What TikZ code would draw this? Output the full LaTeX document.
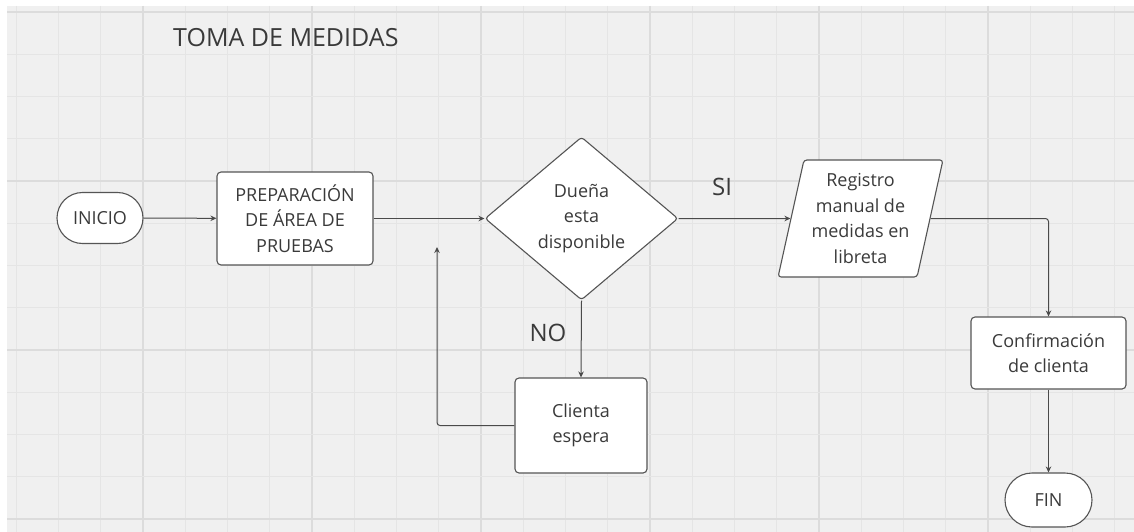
\documentclass[tikz,border=0pt]{standalone}
\usepackage{fontspec}
\setmainfont{Open Sans}
\usetikzlibrary{arrows.meta,shapes.geometric,shapes.misc}
\definecolor{canvas}{HTML}{F0F0F0}
\definecolor{gridminor}{HTML}{E5E5E5}
\definecolor{gridmajor}{HTML}{DCDCDC}
\definecolor{edge}{HTML}{555555}
\definecolor{ink}{HTML}{3A3A3A}
\definecolor{wire}{HTML}{4A4A4A}

\begin{document}
\begin{tikzpicture}[x=1pt,y=-1pt,
  shapebase/.style={draw=edge, line width=1.1pt, fill=white, align=center,
    text=ink, font=\fontsize{18}{25.5}\selectfont, inner sep=0pt},
  process/.style={shapebase, rectangle, rounded corners=4pt},
  terminal/.style={shapebase, rounded rectangle},
  decision/.style={shapebase, diamond, rounded corners=3pt},
  record/.style={shapebase, trapezium, trapezium left angle=76,
    trapezium right angle=104, trapezium stretches=true, rounded corners=3pt},
  label/.style={text=ink, font=\fontsize{24}{28}\selectfont, inner sep=0pt},
  flow/.style={draw=wire, line width=1pt, -{Stealth[length=6pt,width=5.5pt]}}
]
% page and canvas
\useasboundingbox (0,0) rectangle (1134,532);
\fill[white] (0,0) rectangle (1134,532);
\fill[canvas] (7,6) rectangle (1134,532);

% background grid
\foreach \k in {0,...,26} {
  \pgfmathsetmacro\gx{16.25+42.25*\k}
  \pgfmathtruncatemacro\ismajor{mod(\k+1,4)==0}
  \ifnum\ismajor=1
    \draw[gridmajor, line width=1.6pt] (\gx,6) -- (\gx,532);
  \else
    \draw[gridminor, line width=1.3pt] (\gx,6) -- (\gx,532);
  \fi
}
\foreach \k in {0,...,12} {
  \pgfmathsetmacro\gy{12+42.25*\k}
  \pgfmathtruncatemacro\ismajor{mod(\k,4)==0}
  \ifnum\ismajor=1
    \draw[gridmajor, line width=1.6pt] (7,\gy) -- (1134,\gy);
  \else
    \draw[gridminor, line width=1.3pt] (7,\gy) -- (1134,\gy);
  \fi
}

% title
\node[label, font=\fontsize{25}{30}\selectfont, anchor=west] (title) at (173,37.5) {TOMA DE MEDIDAS};

% flowchart nodes
\node[terminal, minimum width=86pt, minimum height=51pt] (inicio) at (100,218) {INICIO};
\node[process, minimum width=156pt, minimum height=93pt] (prep) at (295,218.5)
  {PREPARACIÓN\\DE ÁREA DE\\PRUEBAS};
\node[decision, minimum width=193pt, minimum height=163pt] (duena) at (581.5,218.5)
  {Dueña\\esta\\disponible};
\node[record, minimum width=165pt, minimum height=117pt] (registro) at (860.5,218.5)
  {Registro\\manual de\\medidas en\\libreta};
\node[process, minimum width=155pt, minimum height=72pt] (confirma) at (1048.5,353)
  {Confirmación\\de clienta};
\node[terminal, minimum width=87pt, minimum height=54pt] (fin) at (1048.5,500) {FIN};
\node[process, minimum width=132pt, minimum height=95pt] (espera) at (581,425.5)
  {Clienta\\espera};

% branch labels
\node[label] (si) at (722,187) {SI};
\node[label] (no) at (548,333) {NO};

% connectors
\coordinate (retorno) at (437,247);
\draw[flow] (inicio) -- (prep);
\draw[flow] (prep) -- (duena);
\draw[flow] (duena) -- (registro);
\draw[flow, rounded corners=3pt] (registro.east) -| (confirma.north);
\draw[flow] (confirma) -- (fin);
\draw[flow] (duena.south) -- (espera.north);
\draw[flow, rounded corners=3pt] (espera.west) -| (retorno);
\end{tikzpicture}
\end{document}
